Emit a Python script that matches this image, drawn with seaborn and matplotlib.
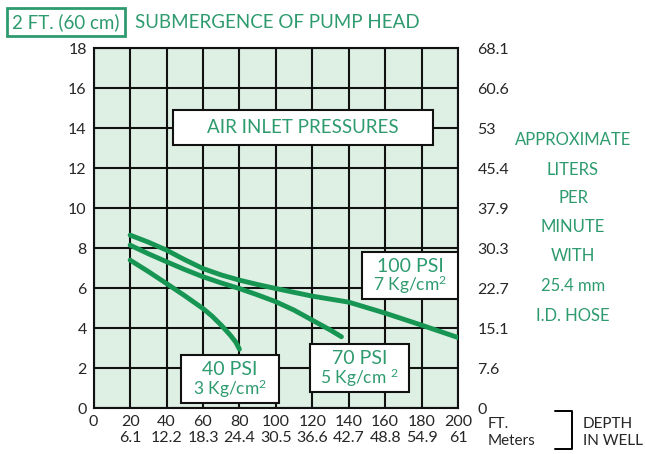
import seaborn as sns
import pandas as pd
import numpy as np
import matplotlib.pyplot as plt
from matplotlib.patches import Rectangle

# datos (profundidad en pies, caudal en GPM)
depth_100 = [20, 30, 40, 50, 60, 70, 80, 90, 100, 120, 140, 160, 180, 200]
flow_100 = [8.65, 8.3, 7.9, 7.42, 6.98, 6.66, 6.4, 6.18, 5.98, 5.6, 5.3, 4.75, 4.15, 3.53]
depth_70 = [20, 30, 40, 50, 60, 70, 80, 90, 100, 110, 120, 130, 136]
flow_70 = [8.15, 7.72, 7.32, 6.93, 6.57, 6.26, 5.98, 5.66, 5.32, 4.9, 4.4, 3.9, 3.57]
depth_40 = [20, 30, 40, 50, 60, 65, 70, 75, 78, 80]
flow_40 = [7.4, 6.83, 6.23, 5.62, 4.98, 4.6, 4.15, 3.65, 3.3, 2.95]

ft_ticks = [0, 20, 40, 60, 80, 100, 120, 140, 160, 180, 200]
meter_labels = ["", "6.1", "12.2", "18.3", "24.4", "30.5", "36.6", "42.7", "48.8", "54.9", "61"]
gpm_ticks = [0, 2, 4, 6, 8, 10, 12, 14, 16, 18]
lpm_labels = ["0", "7.6", "15.1", "22.7", "30.3", "37.9", "45.4", "53", "60.6", "68.1"]
right_text = ["APPROXIMATE", "LITERS", "PER", "MINUTE", "WITH", "25.4 mm", "I.D. HOSE"]

green = "#2e9b6f"
curve = "#179653"

df = pd.concat([
    pd.DataFrame({"depth": depth_100, "flow": flow_100, "psi": "100"}),
    pd.DataFrame({"depth": depth_70, "flow": flow_70, "psi": "70"}),
    pd.DataFrame({"depth": depth_40, "flow": flow_40, "psi": "40"}),
])

sns.set_style("white")
plt.rcParams["font.family"] = ["Lato", "DejaVu Sans"]
plt.rcParams["mathtext.default"] = "regular"

fig = plt.figure(figsize=(6.46, 4.54), dpi=100)
ax = fig.add_axes([0.145, 0.101, 0.564, 0.793])
ax.set_facecolor("#deefe4")

sns.lineplot(data=df, x="depth", y="flow", hue="psi", palette=[curve] * 3,
             linewidth=3.5, legend=False, ax=ax, sort=False, zorder=3,
             solid_capstyle="round")

ax.set_xlim(0, 200)
ax.set_ylim(0, 18)
ax.set_xticks(ft_ticks)
ax.set_xticklabels([f"{a}\n{b}" for a, b in zip(ft_ticks, meter_labels)],
                   fontsize=11.5, linespacing=1.2)
ax.set_yticks(gpm_ticks)
ax.tick_params(axis="both", length=0, labelsize=11.5, pad=5)
ax.grid(True, color="#111111", linewidth=1.5)
ax.set_xlabel("")
ax.set_ylabel("")
for s in ax.spines.values():
    s.set_color("#111111")
    s.set_linewidth(1.5)

ax2 = ax.twinx()
ax2.set_ylim(0, 18)
ax2.set_yticks(gpm_ticks)
ax2.set_yticklabels(lpm_labels)
ax2.tick_params(axis="y", length=0, labelsize=11.5, pad=14)
for s in ax2.spines.values():
    s.set_visible(False)

# cajas con texto
boxes = [
    (43.6, 13.15, 142.4, 1.75, ["AIR INLET PRESSURES"], 13.5),
    (147.3, 5.45, 52.7, 2.35, ["100 PSI", "7 Kg/cm$^{2}$"], 14),
    (119, 0.8, 54, 2.4, ["70 PSI", "5 Kg/cm $^{2}$"], 14),
    (48, 0.25, 53.6, 2.4, ["40 PSI", "3 Kg/cm$^{2}$"], 14),
]
for x0, y0, w, h, lines, fs in boxes:
    ax.add_patch(Rectangle((x0, y0), w, h, facecolor="white", edgecolor="#111111",
                           linewidth=1.5, zorder=4))
    if len(lines) == 1:
        ax.text(x0 + w / 2, y0 + h / 2, lines[0], ha="center", va="center",
                color=green, fontsize=fs, zorder=5)
    else:
        ax.text(x0 + w / 2, y0 + h * 0.7, lines[0], ha="center", va="center",
                color=green, fontsize=fs, zorder=5)
        ax.text(x0 + w / 2, y0 + h * 0.3, lines[1], ha="center", va="center",
                color=green, fontsize=fs - 1.5, zorder=5)

# titulo superior
fig.text(66 / 646, 1 - 22 / 454, "2 FT. (60 cm)", ha="center", va="center",
         color=green, fontsize=13.5,
         bbox=dict(boxstyle="square,pad=0.28", facecolor="white", edgecolor=green, linewidth=2))
fig.text(135 / 646, 1 - 22 / 454, "SUBMERGENCE OF PUMP HEAD", ha="left", va="center",
         color=green, fontsize=13.5)

# texto lateral derecho
ys = [140, 170, 198, 227, 256, 286, 316]
for t, y in zip(right_text, ys):
    fig.text(573 / 646, 1 - y / 454, t, ha="center", va="center", color=green, fontsize=12)

# leyenda inferior derecha
fig.text(488 / 646, 1 - 424 / 454, "FT.", ha="left", va="center", fontsize=11)
fig.text(488 / 646, 1 - 441 / 454, "Meters", ha="left", va="center", fontsize=11)
fig.text(583 / 646, 1 - 424 / 454, "DEPTH", ha="left", va="center", fontsize=11)
fig.text(583 / 646, 1 - 441 / 454, "IN WELL", ha="left", va="center", fontsize=11)
fig.add_artist(plt.Line2D([555 / 646, 572 / 646, 572 / 646, 555 / 646],
                          [1 - 411 / 454, 1 - 411 / 454, 1 - 449 / 454, 1 - 449 / 454],
                          color="black", linewidth=1.4))

fig.savefig("out.png", dpi=100)
